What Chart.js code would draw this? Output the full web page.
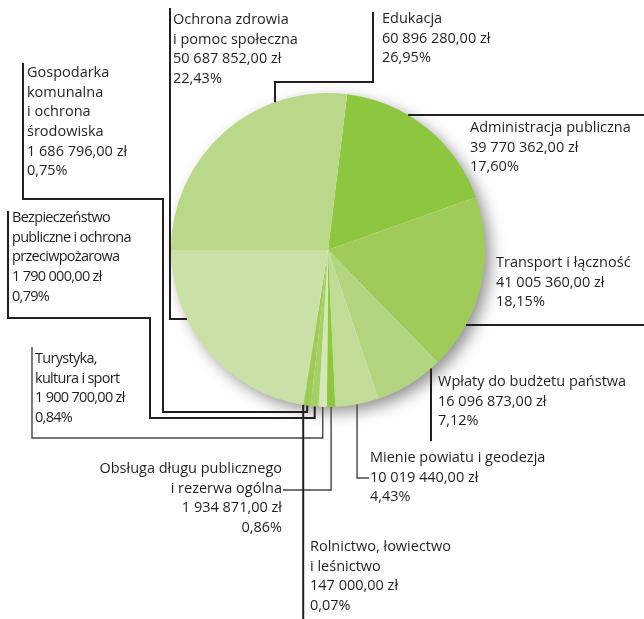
<!DOCTYPE html>
<html>
<head>
<meta charset="utf-8">
<script src="https://cdn.jsdelivr.net/npm/chart.js@4.4.0/dist/chart.umd.min.js"></script>
<style>
  html, body { margin: 0; padding: 0; background: #fff; }
  #wrap { width: 644px; height: 619px; }
</style>
</head>
<body>
<div id="wrap"><canvas id="pie" width="644" height="619"></canvas></div>
<script>
// --- DATA (order = clockwise from the top) ---
const CATEGORIES = [
  ['Administracja publiczna'],
  ['Transport i łączność'],
  ['Wpłaty do budżetu państwa'],
  ['Mienie powiatu i geodezja'],
  ['Obsługa długu publicznego', 'i rezerwa ogólna'],
  ['Turystyka,', 'kultura i sport'],
  ['Bezpieczeństwo', 'publiczne i ochrona', 'przeciwpożarowa'],
  ['Gospodarka', 'komunalna', 'i ochrona', 'środowiska'],
  ['Rolnictwo, łowiectwo', 'i leśnictwo'],
  ['Ochrona zdrowia', 'i pomoc społeczna'],
  ['Edukacja']
];
const AMOUNTS = [39770362.00, 41005360.00, 16096873.00, 10019440.00, 1934871.00,
                 1900700.00, 1790000.00, 1686796.00, 147000.00, 50687852.00, 60896280.00];

// --- STYLE ---
const SLICE_COLORS = ['#8DC63F', '#A0CB5B', '#B2D580', '#C0DC97', '#8DC63F',
                      '#D3E7B8', '#A6CF65', '#9DCB56', '#93C748', '#C9E1A6', '#B9D88A'];
const TEXT_COLOR = '#231F20';
const LINE_DARK = '#231F20';
const LINE_GRAY = '#454545';
const FONT = '14.5px "Open Sans", "Noto Sans", sans-serif';
const LINE_H = 19.6;

// label boxes + leader routes (annotation layout, in px)
// end: 'h' = last segment horizontal at the last y, 'v' = vertical at the last x,
//      'mid' = vertical line dropped from the middle of the slice
const LABEL_LAYOUT = [
  { x: 470, y: 128, route: [[644, 115]], end: 'h' },
  { x: 496, y: 263, route: [[644, 325]], end: 'h' },
  { x: 438, y: 382, route: [[431, 441]], end: 'v' },
  { x: 370, y: 458, route: [[369, 478]], end: 'mid', thin: true },
  { x: 282, y: 469, align: 'right', route: [[283, 490]], end: 'mid', thin: true },
  { x: 35, y: 359, tight: true, route: [[32, 347], [32, 438]], end: 'mid', thin: true },
  { x: 12, y: 218, tight: true, route: [[8, 211], [8, 318], [150, 318], [150, 418]], end: 'mid' },
  { x: 27, y: 73, route: [[23, 63], [23, 199], [163, 199], [163, 412]], end: 'mid' },
  { x: 310, y: 547, route: [[0, 619]], end: 'mid', drop: true },
  { x: 173, y: 20, route: [[170, 8], [170, 319]], end: 'h' },
  { x: 382, y: 19, route: [[373, 12], [373, 82], [275, 82]], end: 'v' }
];

// --- UTILS ---
const TOTAL = AMOUNTS.reduce((s, v) => s + v, 0);
function formatPLN(v) {
  const parts = v.toFixed(2).split('.');
  const intPart = parts[0].replace(/\B(?=(\d{3})+(?!\d))/g, ' ');
  return intPart + ',' + parts[1] + ' zł';
}
function formatPct(v) {
  return (v / TOTAL * 100).toFixed(2).replace('.', ',') + '%';
}

// --- PLUGINS ---
const pieShadow = {
  id: 'pieShadow',
  beforeDatasetsDraw(chart) {
    const a = chart.getDatasetMeta(0).data[0];
    const ctx = chart.ctx;
    ctx.save();
    ctx.shadowColor = 'rgba(0,0,0,0.45)';
    ctx.shadowBlur = 16;
    ctx.shadowOffsetX = 6;
    ctx.shadowOffsetY = 6;
    ctx.fillStyle = '#fff';
    ctx.beginPath();
    ctx.arc(a.x, a.y, a.outerRadius - 1, 0, Math.PI * 2);
    ctx.fill();
    ctx.restore();
  }
};

const leaderLines = {
  id: 'leaderLines',
  afterDatasetsDraw(chart) {
    const ctx = chart.ctx;
    const arcs = chart.getDatasetMeta(0).data;
    const cx = arcs[0].x, cy = arcs[0].y, r = arcs[0].outerRadius;
    ctx.save();
    ctx.lineJoin = 'miter';
    ctx.lineCap = 'butt';
    LABEL_LAYOUT.forEach((lab, i) => {
      const pts = lab.route.map(p => p.slice());
      const last = pts[pts.length - 1];
      let endPt;
      if (lab.end === 'h') {
        const dx = Math.sqrt(r * r - (last[1] - cy) ** 2);
        endPt = [last[0] > cx ? cx + dx : cx - dx, last[1]];
      } else if (lab.end === 'v') {
        const dy = Math.sqrt(r * r - (last[0] - cx) ** 2);
        endPt = [last[0], last[1] > cy ? cy + dy : cy - dy];
      } else {
        const arc = arcs[i];
        const mid = (arc.startAngle + arc.endAngle) / 2;
        endPt = [cx + r * Math.cos(mid), cy + r * Math.sin(mid)];
        if (lab.drop) last[0] = endPt[0];
        else pts.push([endPt[0], last[1]]);
      }
      pts.push(endPt);
      ctx.beginPath();
      ctx.strokeStyle = lab.thin ? LINE_GRAY : LINE_DARK;
      ctx.lineWidth = lab.thin ? 1.4 : 2;
      ctx.moveTo(pts[0][0], pts[0][1]);
      for (let k = 1; k < pts.length; k++) ctx.lineTo(pts[k][0], pts[k][1]);
      ctx.stroke();
    });
    ctx.restore();
  }
};

const sliceLabels = {
  id: 'sliceLabels',
  afterDraw(chart) {
    const ctx = chart.ctx;
    ctx.save();
    ctx.font = FONT;
    ctx.fillStyle = TEXT_COLOR;
    ctx.textBaseline = 'middle';
    LABEL_LAYOUT.forEach((lab, i) => {
      const lines = CATEGORIES[i].concat([formatPLN(AMOUNTS[i]), formatPct(AMOUNTS[i])]);
      ctx.textAlign = lab.align || 'left';
      ctx.letterSpacing = lab.tight ? '-0.7px' : '0px';
      lines.forEach((t, k) => ctx.fillText(t, lab.x, lab.y + k * LINE_H));
    });
    ctx.restore();
  }
};

// --- CHART ---
new Chart(document.getElementById('pie'), {
  type: 'pie',
  data: {
    labels: CATEGORIES,
    datasets: [{
      data: AMOUNTS,
      backgroundColor: SLICE_COLORS,
      borderWidth: 0
    }]
  },
  options: {
    responsive: false,
    animation: false,
    events: [],
    rotation: 7,
    layout: { padding: { left: 171, right: 159, top: 93, bottom: 212 } },
    plugins: { legend: { display: false }, tooltip: { enabled: false } }
  },
  plugins: [pieShadow, leaderLines, sliceLabels]
});
</script>
</body>
</html>
